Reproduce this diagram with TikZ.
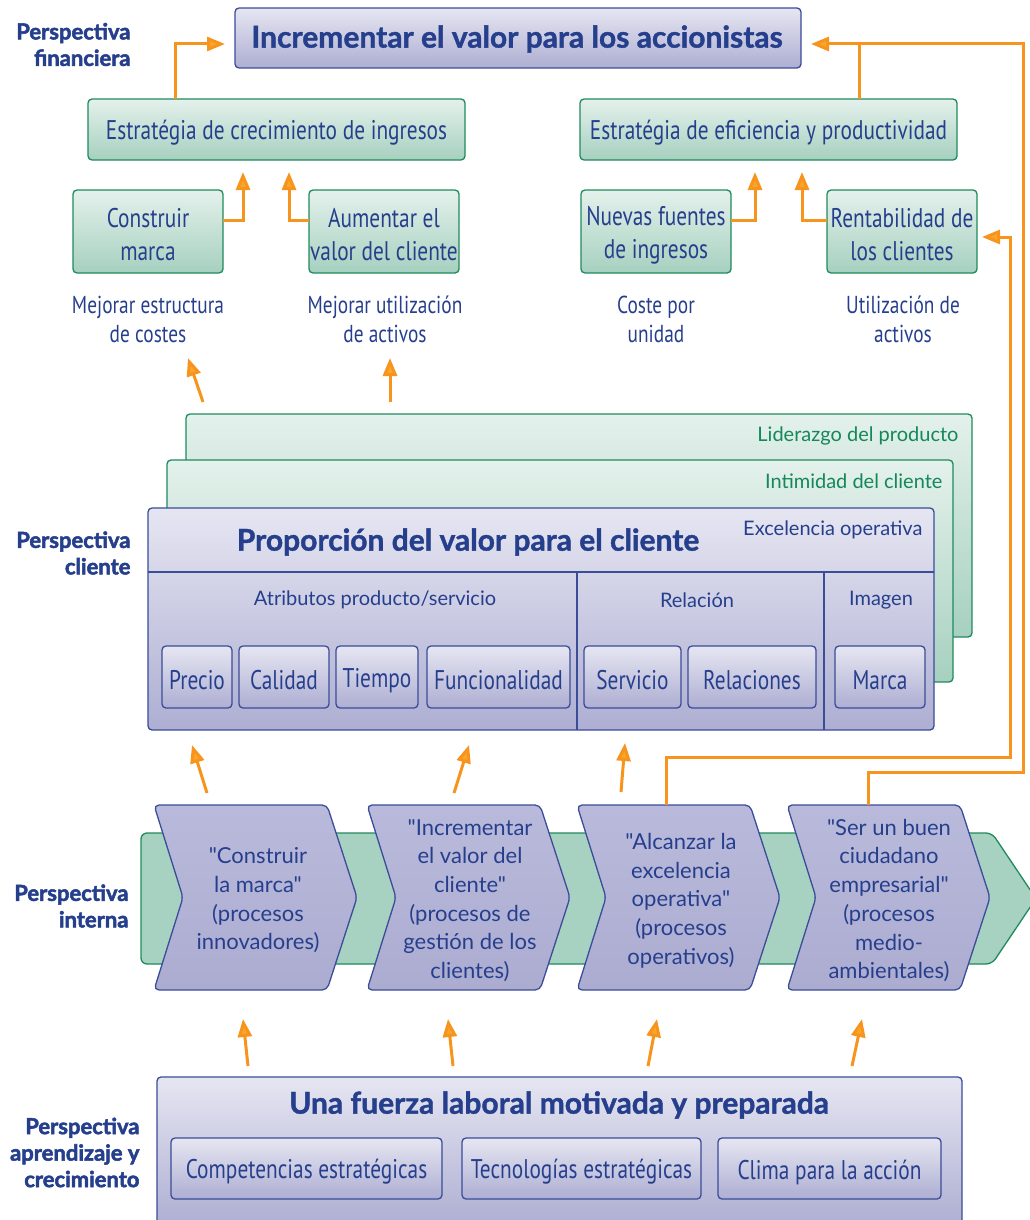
\documentclass[tikz,border=0pt]{standalone}
\usepackage{fontspec}
\usetikzlibrary{arrows.meta,calc}
\setmainfont{Lato}
\newfontfamily\condf[FakeStretch=0.79]{PT Sans}
\newfontfamily\humf{Lato}
\newfontfamily\headf[FakeBold=1.3]{Lato}
\newfontfamily\heavyf[FakeBold=2.4]{Lato}
\definecolor{ptop}{HTML}{E6E6F2}
\definecolor{pbot}{HTML}{ADAED2}
\definecolor{pborder}{HTML}{3B4C98}
\definecolor{gtop}{HTML}{E4F1EC}
\definecolor{gbot}{HTML}{A6D0BF}
\definecolor{gborder}{HTML}{1E8B5C}
\definecolor{bandfill}{HTML}{A7D1C0}
\definecolor{chtop}{HTML}{B9BADB}
\definecolor{chbot}{HTML}{ACACD1}
\definecolor{txtblue}{HTML}{263F8D}
\definecolor{greentext}{HTML}{15885A}
\definecolor{orng}{HTML}{F7941D}
\definecolor{orngtip}{HTML}{FBA52A}
\begin{document}
\begin{tikzpicture}[x=1pt,y=-1pt,
  base/.style={inner sep=0pt, outer sep=0pt, rounded corners=4pt, line width=1.3pt},
  pbox/.style={base, draw=pborder, top color=ptop, bottom color=pbot},
  gbox/.style={base, draw=gborder, top color=gtop, bottom color=gbot},
  ctext/.style={text=txtblue, align=center, yshift=-3.5pt, font=\condf\fontsize{27}{33}\selectfont},
  lbltext/.style={text=txtblue, align=center, font=\condf\fontsize{24.5}{29}\selectfont},
  humtext/.style={text=txtblue, align=center, font=\humf\fontsize{20}{24}\selectfont},
  grntext/.style={text=greentext, font=\humf\fontsize{20}{24}\selectfont},
  headtext/.style={text=txtblue, font=\headf\bfseries\fontsize{30}{32}\selectfont},
  perslbl/.style={text=txtblue, align=right, anchor=east, font=\heavyf\bfseries\fontsize{22}{26.5}\selectfont},
  chevbox/.style={inner sep=0pt, outer sep=0pt, minimum width=203, minimum height=185},
  chevshape/.style={draw=pborder, line width=1.3pt, top color=chtop, bottom color=chbot, rounded corners=5pt},
  chevtxt/.style={text=txtblue, align=center, font=\humf\fontsize{22}{28.7}\selectfont},
  oline/.style={draw=orng, line width=3pt},
  arr/.style={oline, -{Triangle[length=18pt,width=14pt,fill=orngtip]}},
  pline/.style={draw=pborder, line width=1.3pt}
]
\useasboundingbox (0,0) rectangle (1030,1220);

% ---------- Financial perspective ----------
\node[perslbl] (lfin) at (134,44.5) {Perspectiva\\financiera};
\node[pbox, minimum width=566, minimum height=60] (title) at (518,38) {};
\node[headtext] (titlet) at (517,39) {Incrementar el valor para los accionistas};

\node[gbox, minimum width=377, minimum height=61] (ecrec) at (276.5,129.5) {};
\node[ctext] at (ecrec) {Estratégia de crecimiento de ingresos};
\node[gbox, minimum width=377, minimum height=61] (eeff) at (768.5,129.5) {};
\node[ctext] at (eeff) {Estratégia de eficiencia y productividad};

\node[gbox, minimum width=150, minimum height=83] (cmarca) at (148,231.5) {};
\node[ctext] at (cmarca) {Construir\\marca};
\node[gbox, minimum width=150, minimum height=83] (aval) at (384,231.5) {};
\node[ctext] at (aval) {Aumentar el\\valor del cliente};
\node[gbox, minimum width=150, minimum height=83] (nuev) at (656,231.5) {};
\node[ctext] at (nuev) {Nuevas fuentes\\de ingresos};
\node[gbox, minimum width=150, minimum height=83] (rent) at (902,231.5) {};
\node[ctext] at (rent) {Rentabilidad de\\los clientes};

\node[lbltext] (l1) at (148,319) {Mejorar estructura\\de costes};
\node[lbltext] (l2) at (385,319) {Mejorar utilización\\de activos};
\node[lbltext] (l3) at (656,319) {Coste por\\unidad};
\node[lbltext] (l4) at (903,319) {Utilización de\\activos};

% small connectors
\draw[arr, shorten >=12pt] ([yshift=11.5pt]cmarca.east) -| ([xshift=-33.5pt]ecrec.south);
\draw[arr, shorten >=12pt] ([yshift=11.5pt]aval.west) -| ([xshift=12.5pt]ecrec.south);
\draw[arr, shorten >=12pt] ([yshift=11.5pt]nuev.east) -| ([xshift=-13.5pt]eeff.south);
\draw[arr, shorten >=12pt] ([yshift=11.5pt]rent.west) -| ([xshift=33.5pt]eeff.south);
\draw[arr, shorten >=10pt] ([xshift=87pt]ecrec.north west) |- ([yshift=-6pt]title.west);

% ---------- Customer perspective ----------
\node[perslbl] (lcli) at (134,553) {Perspectiva\\cliente};
\node[gbox, minimum width=786, minimum height=223] (lid) at (579,525.5) {};
\node[grntext, anchor=east] at (962,436) {Liderazgo del producto};
\node[gbox, minimum width=786, minimum height=222] (intim) at (560,571) {};
\node[grntext, anchor=east] at (946,481) {Intimidad del cliente};
\node[pbox, minimum width=786, minimum height=222] (prop) at (541,619) {};
\draw[pline] ([yshift=-64pt]prop.north west) -- ([yshift=-64pt]prop.north east);
\draw[pline] ([xshift=429pt,yshift=-64pt]prop.north west) -- ([xshift=429pt]prop.south west);
\draw[pline] ([xshift=676pt,yshift=-64pt]prop.north west) -- ([xshift=676pt]prop.south west);
\node[headtext] at (468,542) {Proporción del valor para el cliente};
\node[humtext, anchor=east] at (926,530) {Excelencia operativa};
\node[humtext] at (375,600) {Atributos producto/servicio};
\node[humtext] at (697,600) {Relación};
\node[humtext] at (881,600) {Imagen};

\node[pbox, minimum width=70, minimum height=62] (precio) at (197,677) {};
\node[ctext] at (precio) {Precio};
\node[pbox, minimum width=90, minimum height=62] (calidad) at (284,677) {};
\node[ctext] at (calidad) {Calidad};
\node[pbox, minimum width=82, minimum height=62] (tiempo) at (377,677) {};
\node[ctext] at (tiempo) {Tiempo};
\node[pbox, minimum width=143, minimum height=62] (func) at (498.5,677) {};
\node[ctext] at (func) {Funcionalidad};
\node[pbox, minimum width=97, minimum height=62] (serv) at (632.5,677) {};
\node[ctext] at (serv) {Servicio};
\node[pbox, minimum width=128, minimum height=62] (relac) at (752,677) {};
\node[ctext] at (relac) {Relaciones};
\node[pbox, minimum width=90, minimum height=62] (marca) at (880,677) {};
\node[ctext] at (marca) {Marca};

\coordinate (u1s) at (203,402); \coordinate (u1e) at (188,358);
\coordinate (u2s) at (390,402); \coordinate (u2e) at (390,358);
\draw[arr] (u1s) -- (u1e);
\draw[arr] (u2s) -- (u2e);

% ---------- Internal perspective ----------
\node[perslbl] (lint) at (132,906) {Perspectiva\\interna};
\path[draw=gborder, line width=1.3pt, fill=bandfill, rounded corners=6pt]
  (141,833) -- (992,833) -- (1036,898.5) -- (992,964) -- (141,964) -- cycle;

\foreach \n/\cx in {1/255.5,2/468.5,3/678.5,4/888.5}{
  \node[chevbox] (chev\n) at (\cx,897.5) {};
  \path[chevshape] (chev\n.north west) -- ([xshift=-30pt]chev\n.north east) -- (chev\n.east)
     -- ([xshift=-30pt]chev\n.south east) -- (chev\n.south west) -- ([xshift=29pt]chev\n.west) -- cycle;
}
\node[chevtxt] (c1t) at (258,900.5) {"Construir\\la marca"\\(procesos\\innovadores)};
\node[chevtxt] (c2t) at (470,900.5) {"Incrementar\\el valor del\\cliente"\\(procesos de\\gestión de los\\clientes)};
\node[chevtxt] (c3t) at (681,900.5) {"Alcanzar la\\excelencia\\operativa"\\(procesos\\operativos)};
\node[chevtxt] (c4t) at (889,900.5) {"Ser un buen\\ciudadano\\empresarial"\\(procesos\\medio-\\ambientales)};

\coordinate (d1s) at (207,793); \coordinate (d1e) at (192,745);
\coordinate (d2s) at (454,793); \coordinate (d2e) at (469,745);
\coordinate (d3s) at (621,792); \coordinate (d3e) at (625,743);
\draw[arr] (d1s) -- (d1e);
\draw[arr] (d2s) -- (d2e);
\draw[arr] (d3s) -- (d3e);

% long feedback connectors
\coordinate (bus) at (1023,44);
\draw[arr, shorten >=5pt] ([xshift=-12.5pt]chev3.north) |- (1010,757) |- ([yshift=-5.5pt]rent.east);
\draw[arr, shorten >=10pt] ([xshift=-20.5pt]chev4.north) |- (1023,772) |- ([yshift=-6pt]title.east);
\draw[oline] ([xshift=279pt]eeff.north west) -- ([xshift=279pt]eeff.north west |- bus);

% ---------- Learning & growth ----------
\node[perslbl] (lapr) at (143,1152.5) {Perspectiva\\aprendizaje y\\crecimiento};
\node[pbox, minimum width=805, minimum height=150] (fuerza) at (559.5,1152) {};
\node[headtext] at (559,1105) {Una fuerza laboral motivada y preparada};
\node[pbox, minimum width=271, minimum height=61] (comp) at (306.5,1168.5) {};
\node[ctext] at (comp) {Competencias estratégicas};
\node[pbox, minimum width=239, minimum height=61] (tecn) at (581.5,1168.5) {};
\node[ctext] at (tecn) {Tecnologías estratégicas};
\node[pbox, minimum width=223, minimum height=61] (clima) at (829.5,1168.5) {};
\node[ctext] at (clima) {Clima para la acción};

\coordinate (b1s) at (248,1066); \coordinate (b1e) at (243,1019);
\coordinate (b2s) at (453,1066); \coordinate (b2e) at (448,1019);
\coordinate (b3s) at (648,1066); \coordinate (b3e) at (657,1019);
\coordinate (b4s) at (852,1066); \coordinate (b4e) at (862,1019);
\draw[arr] (b1s) -- (b1e);
\draw[arr] (b2s) -- (b2e);
\draw[arr] (b3s) -- (b3e);
\draw[arr] (b4s) -- (b4e);
\end{tikzpicture}
\end{document}
